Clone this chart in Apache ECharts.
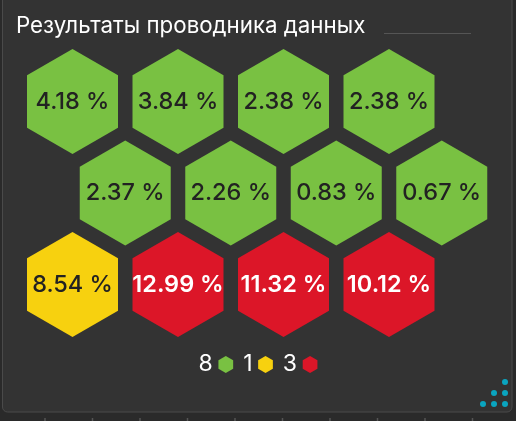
<!DOCTYPE html>
<html>
<head>
<meta charset="utf-8">
<script src="https://cdn.jsdelivr.net/npm/echarts@6/dist/echarts.min.js"></script>
<style>html,body{margin:0;padding:0;background:#2a2a2a;}#c{width:516px;height:421px;}</style>
</head>
<body>
<div id="c"></div>
<script>
// ---- data ----
const title = 'Результаты проводника данных';
const values = [4.18, 3.84, 2.38, 2.38, 2.37, 2.26, 0.83, 0.67, 8.54, 12.99, 11.32, 10.12];
const groupNames = ['green', 'yellow', 'red'];
const groupColors = ['#79c142', '#f7d10f', '#dc1628'];
const thresholds = [5, 10]; // <5 green, 5..10 yellow, >=10 red
const perRow = 4;

function groupOf(v) { return v < thresholds[0] ? 0 : (v < thresholds[1] ? 1 : 2); }

const groups = [[], [], []];
values.forEach((v, i) => {
  const row = Math.floor(i / perRow);
  const col = (i % perRow) + (row % 2 === 1 ? 0.5 : 0);
  groups[groupOf(v)].push([col, row, v]);
});

const hexPath = 'path://M0,-1L0.866,-0.5L0.866,0.5L0,1L-0.866,0.5L-0.866,-0.5Z';
const font = 'Inter';

const chart = echarts.init(document.getElementById('c'), null, {renderer: 'canvas'});
const dotColor = '#0aa5c0';
const ticks = [];
for (let k = 0; k < 10; k++) {
  ticks.push({type: 'line', silent: true, shape: {x1: 45 + k * 47.5, y1: 418, x2: 45 + k * 47.5, y2: 421}, style: {stroke: '#555', lineWidth: 1.5}});
}
const dots = [[505,382],[494,393],[505,393],[483,404],[494,404],[505,404]].map(p => ({
  type: 'circle', silent: true, shape: {cx: p[0], cy: p[1], r: 3}, style: {fill: dotColor}
}));

chart.setOption({
  backgroundColor: '#2a2a2a',
  animation: false,
  graphic: [
    {type: 'rect', silent: true, z: -10, shape: {x: 2.5, y: -10, width: 509.5, height: 422, r: 5}, style: {fill: '#333333', stroke: '#4a4a4a', lineWidth: 1}},
    {type: 'line', silent: true, shape: {x1: 384, y1: 33.5, x2: 471, y2: 33.5}, style: {stroke: '#555', lineWidth: 1}},
    ...dots,
    ...ticks
  ],
  title: {
    text: title, left: 11, top: 10,
    textStyle: {color: '#ffffff', fontFamily: font, fontSize: 22.3, fontWeight: 400}
  },
  legend: {
    bottom: 40, left: 'center', align: 'right', itemGap: 10,
    itemWidth: 16, itemHeight: 17,
    icon: hexPath,
    formatter: name => String(groups[groupNames.indexOf(name)].length),
    textStyle: {color: '#ffffff', fontFamily: font, fontSize: 23, fontWeight: 400, padding: [0, 0, 0, 0]},
    data: groupNames
  },
  grid: {left: 19.75, width: 474.75, top: 55.75, height: 274.5},
  xAxis: {type: 'value', min: -0.5, max: 4, show: false},
  yAxis: {type: 'value', min: -0.5, max: 2.5, inverse: true, show: false},
  series: groupNames.map((name, g) => ({
    name: name, type: 'scatter', clip: false,
    symbol: hexPath, symbolSize: [91, 105],
    itemStyle: {color: groupColors[g], opacity: 1},
    label: {
      show: true, position: 'inside',
      formatter: p => p.value[2].toFixed(2) + ' %',
      color: g === 2 ? '#ffffff' : '#222222',
      fontFamily: font, fontSize: 23.5, fontWeight: g === 2 ? 600 : 500
    },
    emphasis: {disabled: true},
    data: groups[g]
  }))
});
</script>
</body>
</html>
